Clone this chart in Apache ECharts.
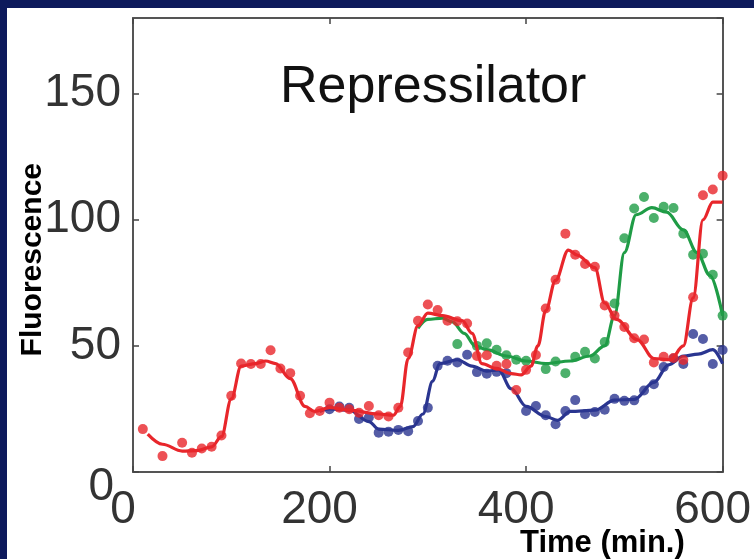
<!DOCTYPE html>
<html>
<head>
<meta charset="utf-8">
<script src="https://cdn.jsdelivr.net/npm/echarts@6/dist/echarts.min.js"></script>
<style>
  html, body { margin: 0; padding: 0; background: #0d1a5c; }
  #chart { width: 754px; height: 559px; }
</style>
</head>
<body>
<div id="chart"></div>
<script>
// axis ticks
var xTicks = [0, 200, 400, 600];
var yTicks = [0, 50, 100, 150];

// red reporter: measured points
var redT = [10, 30, 50, 60, 70, 80, 90, 100, 110, 120, 130, 140, 150, 160, 170, 180, 190, 200, 210, 220,
  230, 240, 250, 260, 270, 280, 290, 300, 310, 320, 330, 340, 350, 360, 370, 380, 390, 400, 410, 420,
  430, 440, 450, 460, 470, 480, 490, 500, 510, 520, 530, 540, 550, 560, 570, 580, 590, 600];
var redV = [17, 6.3, 11.6, 7.6, 9.3, 10, 14.5, 30.2, 43, 42.8, 42.8, 48.3, 41, 39.2, 30.2, 23.3, 24.2, 27.5, 25.5, 24.9,
  23.5, 26.2, 22.5, 22, 25.5, 47.4, 60, 66.4, 64.2, 60, 59.8, 58.9, 46, 46.3, 42.1, 42.8, 32.5, 40.5, 46.4, 64.8,
  76.2, 94.5, 86.1, 82.5, 81.4, 66, 62, 57.5, 53, 52.5, 43.4, 45.7, 45.2, 44.4, 69.3, 109.7, 112, 117.5];
// red fitted curve
var redFitT = [15, 30, 50, 65, 80, 90, 100, 110, 125, 135, 145, 160, 175, 185, 200, 220, 250, 265, 272, 280,
  290, 300, 315, 335, 345, 355, 370, 385, 395, 405, 412, 420, 430, 443, 452, 470, 480, 492, 513, 530,
  547, 560, 570, 580, 590, 600];
var redFitV = [15, 11, 8.3, 8.5, 10, 14, 29, 42, 43, 44, 43, 37, 26, 24, 25.5, 24.5, 23, 22.5, 26, 45,
  58, 63, 62, 60, 55, 43, 41, 39, 38.5, 42, 50, 64, 76, 88, 86, 81, 67, 60.5, 52.5, 45,
  44.5, 50, 69, 100, 107, 107];

// blue reporter
var blueT = [200, 210, 220, 230, 240, 250, 260, 270, 280, 290, 300, 310, 320, 330, 340, 350, 360, 370, 380,
  400, 410, 420, 430, 440, 450, 460, 470, 480, 490, 500, 510, 520, 530, 540, 550, 560, 570, 580, 590, 600];
var blueV = [24.9, 26, 25.5, 21, 21.6, 15.6, 16, 16.7, 16.2, 20.2, 25.5, 42.1, 44.1, 43.4, 46.5, 39.6, 39, 39.7, 39.2,
  24.2, 26.2, 22.5, 18.9, 24.2, 28.5, 22.9, 23.8, 24.7, 29, 28.2, 28.4, 32.3, 34.8, 41.6, 45, 42.8, 54.7, 52.7, 42.8, 48.4];
var blueFitT = [190, 200, 220, 240, 250, 270, 285, 295, 305, 312, 330, 345, 360, 372, 385, 400, 420, 432, 445,
  470, 490, 510, 530, 545, 560, 575, 590, 600];
var blueFitV = [24, 25, 24.5, 20, 17, 16.5, 18, 23, 36, 43, 44.5, 42, 40, 40.5, 33, 26, 22, 20.5, 24,
  24.5, 28.5, 28.8, 35.5, 42.5, 46, 46.7, 48.5, 43];

// green reporter
var greenT = [330, 350, 360, 370, 380, 390, 400, 420, 430, 440, 450, 460, 470, 480, 490, 500, 510, 520, 530,
  540, 550, 560, 570, 580, 590, 600];
var greenV = [50.7, 50, 51, 48.5, 46.3, 44.5, 44.1, 40.8, 43.8, 39.2, 45.7, 47.7, 45, 51.5, 66.8, 92.7, 104.5, 109, 100.7,
  105.2, 104.7, 94.5, 86.1, 86.5, 78.2, 62];
var greenFitT = [290, 300, 315, 325, 337, 348, 360, 380, 400, 420, 445, 465, 480, 490, 500, 512, 528, 543, 560,
  574, 587, 600];
var greenFitV = [57, 60.5, 61, 59.5, 55, 50, 48.5, 46, 44, 43, 44, 46, 50, 62, 87, 102, 104.8, 103, 96,
  87, 78, 62];

function pairs(ts, vs) {
  let out = [];
  for (let i = 0; i < ts.length; i += 1) {
    out.push([ts[i], vs[i]]);
  }
  return out;
}

var RED = '#e8262b';
var GREEN = '#1f9c46';
var BLUE = '#2a3590';
var FONT = '"Liberation Sans", Arial, Helvetica, sans-serif';

function dots(name, ts, vs, color, z) {
  return {
    name: name,
    type: 'scatter',
    data: pairs(ts, vs),
    symbol: 'circle',
    symbolSize: 10,
    itemStyle: { color: color },
    z: z,
    silent: true
  };
}

function fit(name, ts, vs, color, z) {
  return {
    name: name,
    type: 'line',
    data: pairs(ts, vs),
    smooth: 0.35,
    smoothMonotone: 'x',
    showSymbol: false,
    lineStyle: { color: color, width: 3.2 },
    z: z,
    silent: true
  };
}

// frame axis (top / right) without labels
function frameAxis(pos, max, interval) {
  return {
    type: 'value', position: pos, min: 0, max: max, interval: interval,
    axisLine: { show: true, onZero: false, lineStyle: { color: '#555', width: 2 } },
    axisTick: { show: true, inside: true, length: 6, lineStyle: { color: '#444', width: 1.5 } },
    splitLine: { show: false },
    axisLabel: { show: false }
  };
}

var chart = echarts.init(document.getElementById('chart'));

var option = {
  backgroundColor: '#0d1a5c',
  animation: false,
  title: {
    text: 'Repressilator',
    left: 275,
    top: 57,
    textStyle: { fontFamily: FONT, fontSize: 52, fontWeight: 'normal', color: '#111' }
  },
  graphic: [
    { type: 'rect', left: 7, top: 8, shape: { width: 747, height: 551 }, style: { fill: '#ffffff' }, z: -10 },
    {
      type: 'text', left: 18, top: 163, rotation: Math.PI / 2,
      style: { text: 'Fluorescence', font: 'bold 30px ' + FONT, fill: '#000' }
    },
    {
      type: 'text', left: 520, top: 528,
      style: { text: 'Time (min.)', font: 'bold 31px ' + FONT, fill: '#000' }
    }
  ],
  grid: { left: 133, top: 18, right: 28, bottom: 87, containLabel: false },
  xAxis: [
    {
      type: 'value', min: xTicks[0], max: xTicks[xTicks.length - 1], interval: 200,
      axisLine: { onZero: false, lineStyle: { color: '#555', width: 2 } },
      axisTick: { inside: true, length: 6, lineStyle: { color: '#444', width: 1.5 } },
      splitLine: { show: false },
      axisLabel: {
        fontFamily: FONT, fontSize: 46, color: '#333', margin: 15,
        padding: [0, 20, 0, 0]
      }
    },
    frameAxis('top', xTicks[xTicks.length - 1], 200)
  ],
  yAxis: [
    {
      type: 'value', min: yTicks[0], max: 180, interval: 50,
      axisLine: { show: true, onZero: false, lineStyle: { color: '#555', width: 2 } },
      axisTick: { show: true, inside: true, length: 6, lineStyle: { color: '#444', width: 1.5 } },
      splitLine: { show: false },
      axisLabel: {
        fontFamily: FONT, fontSize: 46, color: '#333', margin: 12, showMaxLabel: false,
        formatter: function (v) {
          return v === 0 ? '{z|0}' : String(v);
        },
        rich: { z: { fontFamily: FONT, fontSize: 46, color: '#333', padding: [30, 7, 0, 0] } }
      }
    },
    frameAxis('right', 180, 50)
  ],
  series: [
    dots('blue', blueT, blueV, BLUE, 2),
    fit('blue fit', blueFitT, blueFitV, BLUE, 3),
    dots('green', greenT, greenV, GREEN, 4),
    fit('green fit', greenFitT, greenFitV, GREEN, 5),
    dots('red', redT, redV, RED, 6),
    fit('red fit', redFitT, redFitV, RED, 7)
  ]
};

chart.setOption(option);
</script>
</body>
</html>
